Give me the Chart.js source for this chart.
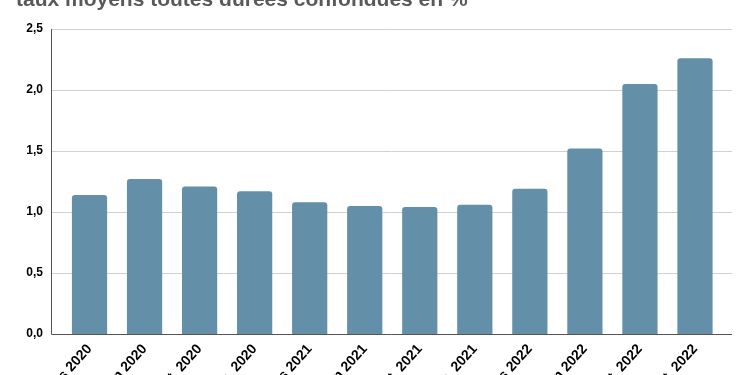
<!DOCTYPE html>
<html>
<head>
<meta charset="utf-8">
<script src="https://cdn.jsdelivr.net/npm/chart.js@4/dist/chart.umd.min.js"></script>
<style>
html,body{margin:0;padding:0;background:#fff;overflow:hidden;width:750px;height:375px;}
#wrap{position:absolute;left:0;top:0;width:750px;height:430px;}
#title{position:absolute;left:16px;top:-13px;font:bold 21px "Liberation Sans",Arial,sans-serif;line-height:24px;color:#595959;white-space:nowrap;}
</style>
</head>
<body>
<div id="wrap"><canvas id="c" width="750" height="430"></canvas></div>
<div id="title">taux moyens toutes durées confondues en %</div>
<script>
const categories = ["Mars 2020","Juin 2020","Sept. 2020","Déc. 2020","Mars 2021","Juin 2021","Sept. 2021","Déc. 2021","Mars 2022","Juin 2022","Sept. 2022","Oct. 2022"];
const rates = [1.14, 1.27, 1.21, 1.17, 1.08, 1.05, 1.04, 1.06, 1.19, 1.52, 2.05, 2.26];
const yTicks = [0, 0.5, 1, 1.5, 2, 2.5];

const frame = {
  id: 'frame',
  beforeDatasetsDraw(chart) {
    const {ctx, chartArea: a, scales: {y}} = chart;
    const L = a.left - 11, R = a.right + 9.5;
    ctx.save();
    ctx.lineWidth = 1;
    ctx.strokeStyle = '#d0d0d0';
    yTicks.forEach(v => {
      if (v === 0) return;
      const py = Math.round(y.getPixelForValue(v)) + 0.5;
      ctx.beginPath(); ctx.moveTo(L, py); ctx.lineTo(R, py); ctx.stroke();
    });
    ctx.restore();
  },
  afterDatasetsDraw(chart) {
    const {ctx, chartArea: a, scales: {y}} = chart;
    const L = Math.round(a.left - 11) + 0.5, R = a.right + 9.5;
    const y0 = Math.round(y.getPixelForValue(0)) + 0.5;
    const yTop = y.getPixelForValue(2.5);
    ctx.save();
    ctx.strokeStyle = '#555';
    ctx.lineWidth = 1;
    ctx.beginPath(); ctx.moveTo(L, yTop); ctx.lineTo(L, y0); ctx.lineTo(R, y0); ctx.stroke();
    ctx.restore();
  }
};

new Chart(document.getElementById('c'), {
  type: 'bar',
  data: {
    labels: categories,
    datasets: [{
      data: rates,
      backgroundColor: '#648fa9',
      borderRadius: {topLeft: 3, topRight: 3, bottomLeft: 0, bottomRight: 0},
      borderSkipped: 'bottom',
      barPercentage: 0.64,
      categoryPercentage: 1.0
    }]
  },
  options: {
    responsive: false,
    animation: false,
    layout: {padding: {top: 29, right: 27.5, left: 0, bottom: 0}},
    plugins: {legend: {display: false}, tooltip: {enabled: false}, title: {display: false}},
    scales: {
      x: {
        grid: {display: false, drawTicks: false},
        border: {display: false},
        afterFit(s) { s.height = 96; },
        ticks: {
          minRotation: 48, maxRotation: 48, padding: 7,
          color: '#000',
          font: {family: '"Liberation Sans", Arial, sans-serif', size: 14, weight: 'bold'}
        }
      },
      y: {
        min: 0, max: 2.5,
        afterFit(s) { s.width = 62; },
        afterBuildTicks(s) { s.ticks = yTicks.map(v => ({value: v})); },
        grid: {display: false, drawTicks: false},
        border: {display: false},
        ticks: {
          padding: 19,
          color: '#000',
          font: {family: '"Liberation Sans", Arial, sans-serif', size: 12, weight: 'bold'},
          callback: v => v.toFixed(1).replace('.', ',')
        }
      }
    }
  },
  plugins: [frame]
});
</script>
</body>
</html>
